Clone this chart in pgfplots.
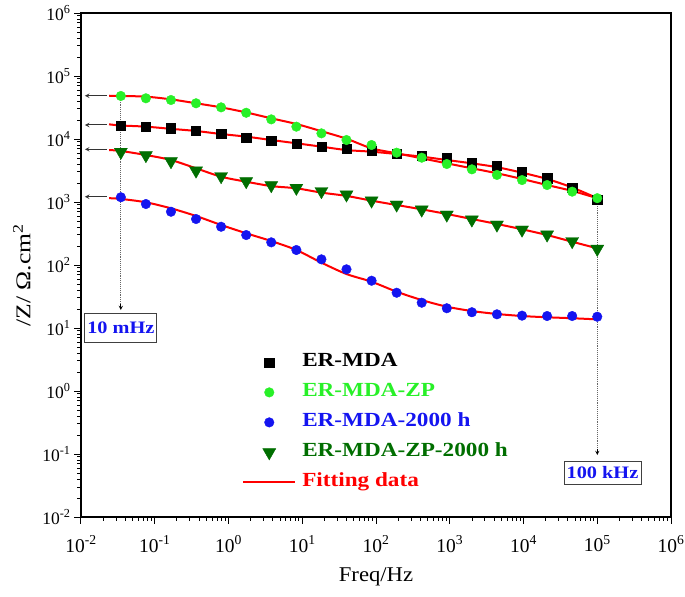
\documentclass[border=0pt]{standalone}
\usepackage{fontspec}
\setmainfont{Liberation Serif}
\newfontfamily\legfont[FakeStretch=1.16]{Liberation Serif}
\newfontfamily\labfont[FakeStretch=1.08]{Liberation Serif}
\newfontfamily\ylabfont[FakeStretch=1.22]{Liberation Serif}
\usepackage{pgfplots}
\usepackage{pgfplotstable}
\pgfplotsset{compat=1.18}
\definecolor{cgreen}{RGB}{40,240,40}
\definecolor{dgreen}{RGB}{0,110,0}
\definecolor{cblue}{RGB}{20,20,240}
\definecolor{cred}{RGB}{255,0,0}
\pgfplotsset{
  legmark/.style={legend image code/.code={\draw[mark repeat=2,mark phase=2,##1] plot coordinates {(0pt,0pt) (26pt,0pt) (52pt,0pt)};}},
  legline/.style={legend image code/.code={\draw[##1] (0pt,0pt) -- (52pt,0pt);}},
}

\pgfplotstableread{
f Z
0.0347 16300
0.0759 15700
0.166 14800
0.363 13600
0.794 12300
1.738 10600
3.80 9400
8.32 8330
18.2 7560
39.8 6940
87.1 6460
190.5 5780
416.9 5370
912 4940
1995 4210
4365 3730
9550 3030
20890 2380
45710 1710
100000 1080
}\tblA
\pgfplotstableread{
f Z
0.0347 48200
0.0759 44300
0.166 41600
0.363 36900
0.794 31800
1.738 26100
3.80 20500
8.32 15700
18.2 12300
39.8 9640
87.1 8030
190.5 6070
416.9 5050
912 4010
1995 3300
4365 2690
9550 2230
20890 1860
45710 1460
100000 1150
}\tblB
\pgfplotstableread{
f Z
0.0347 1190
0.0759 929
0.166 701
0.363 537
0.794 405
1.738 299
3.80 229
8.32 173
18.2 123
39.8 85.4
87.1 56.3
190.5 36.3
416.9 25.2
912 20.6
1995 17.8
4365 16.5
9550 15.7
20890 15.5
45710 15.5
100000 15.1
}\tblC
\pgfplotstableread{
f Z
0.0347 6220
0.0759 5510
0.166 4420
0.363 3140
0.794 2560
1.738 2130
3.80 1840
8.32 1670
18.2 1480
39.8 1310
87.1 1050
190.5 906
416.9 755
912 628
1995 524
4365 436
9550 363
20890 303
45710 238
100000 180
}\tblD
% fitting curves
\pgfplotstableread{
f Z
0.024 17100
0.0347 16400
0.0759 15700
0.166 14500
0.363 13400
0.794 12000
1.738 10900
3.80 9640
8.32 8550
18.2 7560
39.8 6680
87.1 6290
190.5 5780
416.9 5250
912 4640
1995 4110
4365 3570
9550 2920
20890 2320
45710 1700
100000 1150
}\fitA
\pgfplotstableread{
f Z
0.024 48600
0.0347 48200
0.0759 47000
0.166 42600
0.363 36900
0.794 31800
1.738 26400
3.80 21300
8.32 17300
18.2 13300
39.8 10100
87.1 7110
190.5 5930
416.9 4940
912 4110
1995 3430
4365 2860
9550 2320
20890 1860
45710 1500
100000 1150
}\fitB
\pgfplotstableread{
f Z
0.024 1150
0.0347 1120
0.0759 989
0.166 794
0.363 600
0.794 432
1.738 319
3.80 240
8.32 173
18.2 109
39.8 71.9
87.1 54.3
190.5 37.7
416.9 27.8
912 21.8
1995 18.6
4365 16.7
9550 15.5
20890 14.8
45710 14.3
100000 13.7
}\fitC
\pgfplotstableread{
f Z
0.024 6680
0.0347 6460
0.0759 5570
0.166 4640
0.363 3430
0.794 2520
1.738 2100
3.80 1790
8.32 1650
18.2 1410
39.8 1250
87.1 1050
190.5 896
416.9 765
912 645
1995 537
4365 448
9550 369
20890 299
45710 234
100000 184
}\fitD

\begin{document}
\begin{tikzpicture}
\begin{axis}[
  scale only axis, width=590pt, height=504pt,
  clip=false,
  xmode=log, ymode=log, log basis x=10, log basis y=10,
  xmin=1e-2, xmax=1e6, ymin=1e-2, ymax=1e6,
  xtick={1e-2,1e-1,1,10,100,1000,1e4,1e5,1e6},
  ytick={1e-2,1e-1,1,10,100,1000,1e4,1e5,1e6},
  xtick pos=bottom, ytick pos=left,
  tick align=outside,
  major tick length=7pt, minor tick length=4pt,
  tick style={draw=black, line width=1pt},
  axis line style={line width=1.8pt},
  xticklabel={10\textsuperscript{\pgfmathparse{int(round(\tick))}\pgfmathresult}},
  yticklabel={10\textsuperscript{\pgfmathparse{int(round(\tick))}\pgfmathresult}},
  x tick label style={font=\fontsize{19.5}{22}\selectfont, yshift=-8pt},
  y tick label style={font=\fontsize{17.5}{20}\selectfont},
  xlabel={Freq/Hz},
  ylabel={/Z/ Ω.cm\textsuperscript{2}},
  x label style={font=\labfont\fontsize{21}{24}\selectfont, at={(axis description cs:0.5,-0.119)}, anchor=center},
  y label style={font=\ylabfont\fontsize{21}{24}\selectfont, at={(axis description cs:-0.1,0.48)}, anchor=center},
  legend cell align=left,
  legend style={at={(0.273,0.326)}, anchor=north west, draw=none, fill=none,
    inner sep=0pt, row sep=11pt,
    nodes={inner sep=0pt, text height=14pt, text depth=5pt},
    font=\legfont\fontsize{20}{22}\selectfont\bfseries,
    /tikz/every odd column/.append style={column sep=6pt}},
]
\addplot[only marks, mark=square*, mark size=4.6pt, black, legmark]
  table[x=f,y=Z] {\tblA};
\addlegendentry{\textcolor{black}{ER-MDA}}
\addplot[only marks, mark=*, mark size=4.8pt, cgreen, mark options={draw=cgreen, fill=cgreen}, legmark]
  table[x=f,y=Z] {\tblB};
\addlegendentry{\textcolor{cgreen}{ER-MDA-ZP}}
\addplot[only marks, mark=*, mark size=4.8pt, cblue, mark options={draw=cblue, fill=cblue}, legmark]
  table[x=f,y=Z] {\tblC};
\addlegendentry{\textcolor{cblue}{ER-MDA-2000 h}}
\addplot[only marks, mark=triangle*, mark size=7.5pt, dgreen, mark options={draw=dgreen, fill=dgreen, rotate=180}, legmark]
  table[x=f,y=Z] {\tblD};
\addlegendentry{\textcolor{dgreen}{ER-MDA-ZP-2000 h}}
\addplot[cred, line width=2pt, smooth, no marks, legline]
  table[x=f,y=Z] {\fitA};
\addlegendentry{\textcolor{cred}{Fitting data}}
\addplot[cred, line width=2pt, smooth, no marks, forget plot] table[x=f,y=Z] {\fitB};
\addplot[cred, line width=2pt, smooth, no marks, forget plot] table[x=f,y=Z] {\fitC};
\addplot[cred, line width=2pt, smooth, no marks, forget plot] table[x=f,y=Z] {\fitD};

% tick marks (outside, bottom and left)
\pgfplotsinvokeforeach{0.01,0.1,1,10,100,1000,10000,100000,1000000}{
  \draw[black, line width=1pt] (axis cs:#1,0.01) -- ++(0pt,-7pt);
  \draw[black, line width=1pt] (axis cs:0.01,#1) -- ++(-7pt,0pt);
}
\pgfplotsinvokeforeach{0.02,0.03,0.04,0.05,0.06,0.07,0.08,0.09,0.2,0.3,0.4,0.5,0.6,0.7,0.8,0.9,2,3,4,5,6,7,8,9,20,30,40,50,60,70,80,90,200,300,400,500,600,700,800,900,2000,3000,4000,5000,6000,7000,8000,9000,20000,30000,40000,50000,60000,70000,80000,90000,200000,300000,400000,500000,600000,700000,800000,900000}{
  \draw[black, line width=0.9pt] (axis cs:#1,0.01) -- ++(0pt,-4pt);
  \draw[black, line width=0.9pt] (axis cs:0.01,#1) -- ++(-4pt,0pt);
}

% annotations
\draw[densely dotted, black!60, line width=0.9pt] (axis cs:0.0347,45000) -- (axis cs:0.0347,22);
\draw[-stealth, black, line width=0.9pt] (axis cs:0.0347,24) -- (axis cs:0.0347,19.3);
\node[draw=black!75, fill=white, line width=0.8pt, text=cblue, font=\legfont\fontsize{17.5}{20}\selectfont\bfseries,
  minimum width=72pt, minimum height=29pt, inner sep=0pt] at (axis cs:0.0347,10.2) {10 mHz};
\draw[densely dotted, black!60, line width=0.9pt] (axis cs:1e5,1000) -- (axis cs:1e5,0.11);
\draw[-stealth, black, line width=0.9pt] (axis cs:1e5,0.12) -- (axis cs:1e5,0.0964);
\node[draw=black!75, fill=white, line width=0.8pt, text=cblue, font=\legfont\fontsize{17.5}{20}\selectfont\bfseries,
  minimum width=77pt, minimum height=23pt, inner sep=0pt] at (axis cs:117800,0.0508) {100 kHz};
\draw[-stealth, black!80, line width=1pt] (axis cs:0.0225,48600) -- (axis cs:0.0113,48600);
\draw[-stealth, black!80, line width=1pt] (axis cs:0.0225,16700) -- (axis cs:0.0113,16700);
\draw[-stealth, black!80, line width=1pt] (axis cs:0.0225,6860) -- (axis cs:0.0113,6860);
\draw[-stealth, black!80, line width=1pt] (axis cs:0.0225,1210) -- (axis cs:0.0113,1210);
\end{axis}
\pgfresetboundingbox
\useasboundingbox ([shift={(-81pt,-79pt)}]current axis.south west) rectangle ([shift={(14pt,13pt)}]current axis.north east);
\end{tikzpicture}
\end{document}
